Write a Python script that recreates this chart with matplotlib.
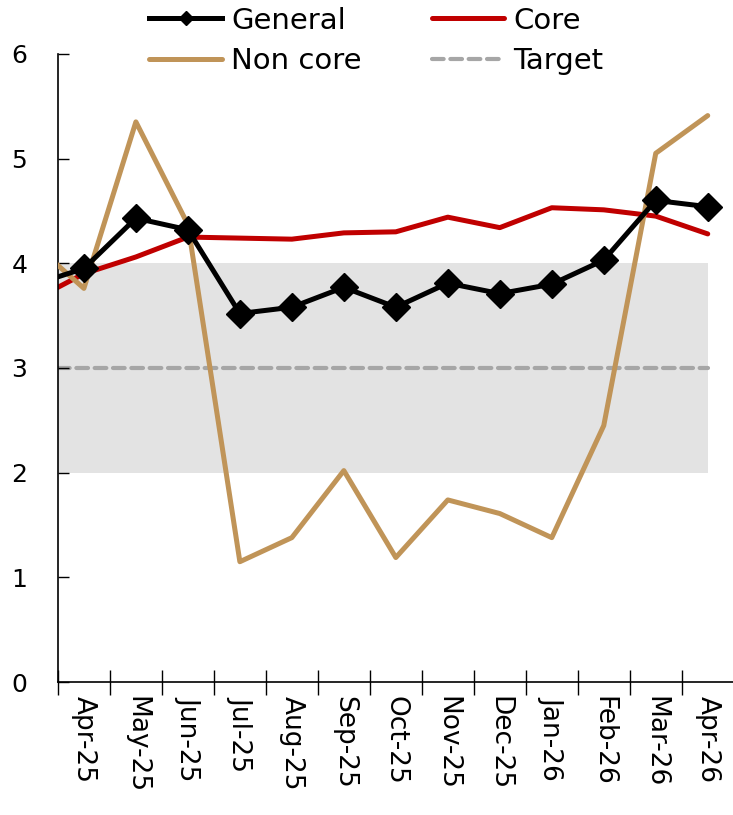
import numpy as np
import matplotlib.pyplot as plt

plt.rcParams['font.family'] = ['DejaVu Sans']

# Mar-25 included only so the lines run in from the left edge (clipped)
months = ['Mar-25', 'Apr-25', 'May-25', 'Jun-25', 'Jul-25', 'Aug-25', 'Sep-25',
          'Oct-25', 'Nov-25', 'Dec-25', 'Jan-26', 'Feb-26', 'Mar-26', 'Apr-26']
general = [3.79, 3.95, 4.43, 4.32, 3.52, 3.58, 3.77, 3.58, 3.81, 3.71, 3.80, 4.03, 4.60, 4.54]
core = [3.64, 3.90, 4.06, 4.25, 4.24, 4.23, 4.29, 4.30, 4.44, 4.34, 4.53, 4.51, 4.45, 4.28]
non_core = [4.20, 3.76, 5.35, 4.37, 1.15, 1.38, 2.02, 1.19, 1.74, 1.61, 1.38, 2.45, 5.05, 5.41]
target = 3.0
band = (2.0, 4.0)

x = np.arange(len(months)) - 1

fig = plt.figure(figsize=(7.33, 8.15), dpi=100)
ax = fig.add_axes([0.079, 0.163, 0.922, 0.771])

ax.fill_between([-0.5, 12], band[0], band[1], color='#e3e3e3', lw=0, zorder=0)
ax.plot([-0.5, 12], [target, target], color='#a6a6a6', lw=3, ls=(0, (2.8, 1.6)),
        dash_capstyle='round', label='Target', zorder=1)
ax.plot(x, core, color='#c00000', lw=3.6, label='Core', zorder=2,
        solid_capstyle='round')
ax.plot(x, non_core, color='#c09458', lw=3.6, label='Non core', zorder=3,
        solid_capstyle='round')
ax.plot(x, general, color='black', lw=3.6, marker='D', markersize=14,
        label='General', zorder=4)

ax.set_xlim(-0.5, 12.5)
ax.set_ylim(0, 6)
ax.set_yticks(range(0, 7))
ax.tick_params(axis='y', direction='in', length=8, width=1, pad=22, labelsize=18)

ax.set_xticks(np.arange(0, 13))
ax.set_xticklabels(months[1:], rotation=-90, fontsize=19)
ax.set_xticks(np.arange(-0.5, 13, 1), minor=True)
ax.tick_params(axis='x', which='major', length=0, pad=10)
ax.tick_params(axis='x', which='minor', direction='inout', length=18, width=1)

for s in ['top', 'right']:
    ax.spines[s].set_visible(False)
for s in ['left', 'bottom']:
    ax.spines[s].set_linewidth(1.2)

h, l = ax.get_legend_handles_labels()
order = [3, 2, 1, 0]
leg = fig.legend([h[i] for i in order], [l[i] for i in order], ncol=2,
                 loc='upper left', bbox_to_anchor=(0.168, 1.024), frameon=False,
                 fontsize=21, handlelength=2.5, columnspacing=2.4,
                 handletextpad=0.3, labelspacing=0.42, markerscale=0.5)

fig.savefig('out.png', dpi=100)
